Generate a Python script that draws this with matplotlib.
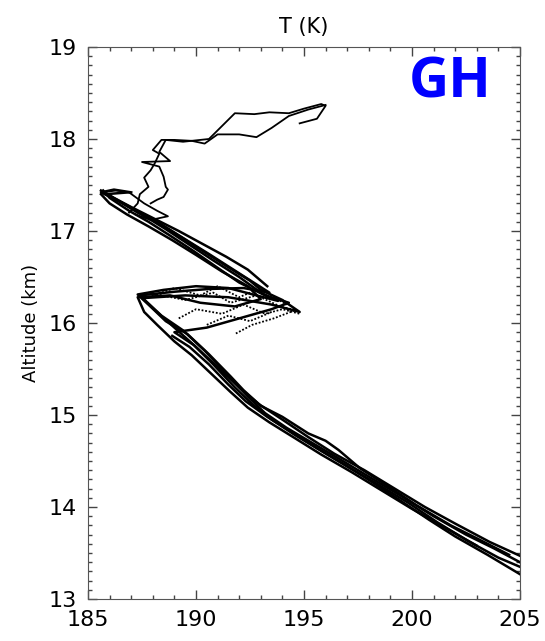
import matplotlib
matplotlib.use("Agg")
import matplotlib.pyplot as plt
from matplotlib.ticker import MultipleLocator

# temperature (K) / altitude (km) pairs, one list per flight segment
p1_t = [205.0, 203.8, 202.5, 201.0, 199.5, 198.0, 196.8, 195.5, 194.2, 193.2, 192.4, 191.4, 190.4, 189.4, 188.4, 187.4,
        189.0, 190.6, 192.2, 193.4, 192.8, 191.8, 190.6, 189.5, 188.4, 187.3, 186.4, 185.6, 186.2, 187.0]
p1_z = [13.40, 13.55, 13.70, 13.90, 14.12, 14.33, 14.50, 14.68, 14.86, 15.02, 15.20, 15.45, 15.70, 15.92, 16.08, 16.30,
        16.34, 16.37, 16.38, 16.33, 16.42, 16.57, 16.75, 16.91, 17.07, 17.20, 17.33, 17.42, 17.45, 17.42]

p2_t = [205.0, 203.6, 202.0, 200.6, 199.2, 197.8, 196.4, 195.2, 194.0, 192.9, 192.0, 191.0, 190.0, 189.0, 188.0, 187.5,
        189.5, 191.5, 193.5, 194.8, 194.0, 193.0, 192.5, 191.4, 190.2, 189.0, 187.9, 186.8, 185.8, 186.9]
p2_z = [13.47, 13.62, 13.82, 14.00, 14.20, 14.40, 14.58, 14.76, 14.95, 15.12, 15.30, 15.52, 15.74, 15.95, 16.16, 16.27,
        16.30, 16.28, 16.20, 16.12, 16.25, 16.36, 16.46, 16.62, 16.80, 16.98, 17.14, 17.28, 17.40, 17.42]

p3_t = [205.0, 204.0, 202.6, 201.2, 199.8, 198.4, 197.0, 195.8, 194.6, 193.5, 192.6, 191.8, 190.8, 189.9, 189.0,
        190.5, 192.0, 193.5, 194.3, 193.2, 192.0, 191.0, 189.9, 188.8, 187.8, 186.9, 186.0, 185.7]
p3_z = [13.35, 13.45, 13.63, 13.83, 14.05, 14.25, 14.44, 14.61, 14.78, 14.95, 15.12, 15.30, 15.55, 15.76, 15.90,
        15.95, 16.05, 16.15, 16.22, 16.30, 16.44, 16.60, 16.78, 16.95, 17.10, 17.22, 17.36, 17.44]

p4_t = [205.0, 203.5, 202.0, 200.8, 199.4, 198.1, 196.9, 195.6, 194.4, 193.3, 192.3, 191.5, 190.6, 189.7, 188.9]
p4_z = [13.27, 13.48, 13.68, 13.86, 14.08, 14.28, 14.46, 14.64, 14.82, 14.98, 15.15, 15.33, 15.55, 15.74, 15.86]

p5_t = [204.5, 203.0, 201.8, 200.2, 198.8, 197.6, 196.6, 196.0, 195.2, 194.0, 193.0, 192.2, 191.6, 190.6, 189.6, 188.6,
        187.8, 187.3, 188.5, 190.0, 191.5, 192.8, 193.8, 193.0, 192.0, 190.8, 189.7, 188.6, 187.5, 186.6, 185.9]
p5_z = [13.48, 13.66, 13.80, 14.02, 14.24, 14.42, 14.62, 14.72, 14.80, 14.98, 15.10, 15.27, 15.42, 15.66, 15.88, 16.02,
        16.20, 16.31, 16.36, 16.40, 16.38, 16.30, 16.24, 16.33, 16.50, 16.68, 16.85, 17.02, 17.18, 17.30, 17.40]

p6_t = [203.0, 201.5, 200.0, 198.6, 197.2, 195.8, 194.5, 193.4, 192.4, 191.6, 190.7, 189.8, 189.0, 188.2, 187.6, 187.3,
        188.8, 190.2, 191.8, 193.0, 192.4, 191.2, 190.0, 188.9, 187.8, 186.8, 186.0, 185.6]
p6_z = [13.58, 13.78, 13.98, 14.18, 14.38, 14.57, 14.76, 14.92, 15.08, 15.25, 15.45, 15.65, 15.80, 15.98, 16.12, 16.28,
        16.30, 16.22, 16.18, 16.26, 16.40, 16.56, 16.74, 16.90, 17.05, 17.18, 17.30, 17.40]

p7_t = [193.3, 192.4, 191.4, 190.3, 189.2, 188.1, 187.0, 186.2, 185.6]
p7_z = [16.40, 16.58, 16.72, 16.86, 17.00, 17.13, 17.26, 17.36, 17.44]

# scatter inside the 16-16.4 km inversion
c1_t = [188.0, 189.5, 190.8, 191.6, 192.8, 193.9, 194.6, 193.6, 192.6, 191.8]
c1_z = [16.32, 16.25, 16.33, 16.22, 16.30, 16.18, 16.14, 16.05, 15.98, 15.88]
c2_t = [187.8, 189.0, 190.2, 191.0, 192.0, 193.0, 193.6, 194.2]
c2_z = [16.28, 16.38, 16.30, 16.40, 16.28, 16.38, 16.28, 16.20]
c3_t = [189.2, 190.0, 191.2, 192.2, 193.2, 194.0, 194.8]
c3_z = [16.05, 16.15, 16.10, 16.20, 16.10, 16.15, 16.10]
c4_t = [190.5, 191.5, 192.5, 193.5]
c4_z = [15.98, 16.08, 16.02, 16.12]

# above the cold point
u1_t = [186.9, 187.3, 187.4, 187.8, 187.6, 187.9, 188.1, 188.3, 188.0, 188.4, 189.0, 189.8, 190.4, 191.0, 192.0, 192.8,
        193.5, 194.3, 195.2, 196.0]
u1_z = [17.20, 17.30, 17.40, 17.48, 17.58, 17.66, 17.74, 17.84, 17.88, 17.99, 17.99, 17.98, 17.95, 18.05, 18.05, 18.02,
        18.12, 18.25, 18.32, 18.37]

u2_t = [187.9, 188.2, 188.5, 188.7, 188.6, 188.5, 188.3, 187.5, 188.8, 188.3, 188.6, 189.4, 190.6, 191.8, 192.7,
        193.4, 194.3, 195.0, 195.8, 196.0, 195.6, 194.8]
u2_z = [17.30, 17.34, 17.37, 17.45, 17.48, 17.59, 17.70, 17.75, 17.76, 17.86, 17.99, 17.97, 18.00, 18.28, 18.27,
        18.29, 18.28, 18.33, 18.38, 18.36, 18.22, 18.17]

u3_t = [185.6, 186.3, 186.9, 187.6, 188.2, 188.7, 187.9, 187.2]
u3_z = [17.42, 17.44, 17.42, 17.30, 17.22, 17.16, 17.12, 17.18]

band = [(p1_t, p1_z), (p2_t, p2_z), (p3_t, p3_z), (p4_t, p4_z), (p5_t, p5_z), (p6_t, p6_z), (p7_t, p7_z)]
cloud = [(c1_t, c1_z), (c2_t, c2_z), (c3_t, c3_z), (c4_t, c4_z)]
upper = [(u1_t, u1_z), (u2_t, u2_z), (u3_t, u3_z)]

fig = plt.figure(figsize=(5.45, 6.41), dpi=100)
ax = fig.add_axes([0.1615, 0.0655, 0.7925, 0.8612])

for t, z in band:
    ax.plot(t, z, color="black", lw=1.8)
for t, z in cloud:
    ax.plot(t, z, color="black", lw=1.3, dashes=(1, 1))
for t, z in upper:
    ax.plot(t, z, color="black", lw=1.3)

ax.set_xlim(185, 205)
ax.set_ylim(13, 19)
ax.xaxis.set_major_locator(MultipleLocator(5))
ax.xaxis.set_minor_locator(MultipleLocator(1))
ax.yaxis.set_major_locator(MultipleLocator(1))
ax.yaxis.set_minor_locator(MultipleLocator(0.1))
ax.tick_params(which="both", direction="in", top=True, right=True, color="#444444", width=1)
ax.tick_params(which="major", length=6.5, labelsize=16, pad=8)
ax.tick_params(which="minor", length=3)
for s in ax.spines.values():
    s.set_color("#555555")

ax.set_title("T (K)", fontsize=15, pad=10)
ax.set_ylabel("Altitude (km)", fontsize=13, labelpad=6)
ax.text(0.838, 0.935, "GH", transform=ax.transAxes, color="#0000ff", fontsize=40, fontweight="bold",
        family="Open Sans", ha="center", va="center")

plt.savefig("out.png", dpi=100)
